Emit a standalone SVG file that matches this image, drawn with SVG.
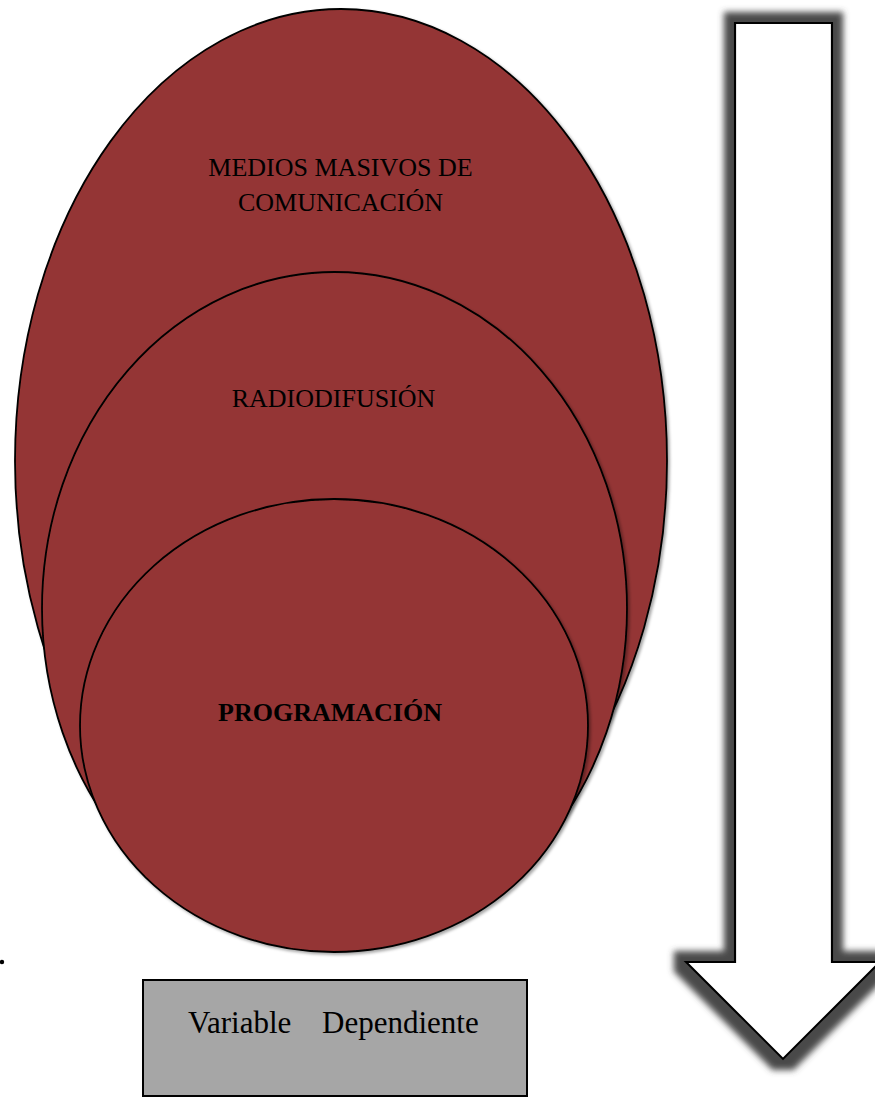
<svg xmlns="http://www.w3.org/2000/svg" width="875" height="1097" viewBox="0 0 875 1097">
  <style>
    .oval { fill: #943634; stroke: #000; stroke-width: 1.8; filter: url(#dshadow); }
    .lbl { font-family: "Liberation Serif", "Times New Roman", serif; font-size: 26px; fill: #000; text-anchor: middle; }
    .bold { font-weight: bold; }
    .box { fill: #a6a6a6; stroke: #000; stroke-width: 2; }
    .arrow { fill: #fff; stroke: #000; stroke-width: 2.2; stroke-linejoin: miter; filter: url(#glow); }
  </style>
  <defs>
    <filter id="dshadow" x="-10%" y="-10%" width="120%" height="120%">
      <feDropShadow dx="2" dy="2" stdDeviation="1.5" flood-color="#000" flood-opacity="0.35"/>
    </filter>
    <filter id="glow" x="-30%" y="-10%" width="160%" height="120%">
      <feMorphology in="SourceAlpha" operator="dilate" radius="10" result="d"/>
      <feGaussianBlur in="d" stdDeviation="3" result="b"/>
      <feFlood flood-color="#4a4a4a" result="c"/>
      <feComposite in="c" in2="b" operator="in" result="s"/>
      <feMerge>
        <feMergeNode in="s"/>
        <feMergeNode in="SourceGraphic"/>
      </feMerge>
    </filter>
  </defs>

  <g id="connectors">
    <g id="arrow-down">
      <path class="arrow" d="M735,23 L832,23 L832,962 L880,962 L783,1059 L686,962 L735,962 Z"/>
    </g>
  </g>

  <g id="medios">
    <ellipse class="oval" cx="341" cy="461" rx="326" ry="452"/>
    <text class="lbl" x="340.5" y="176">MEDIOS MASIVOS DE</text>
    <text class="lbl" x="340.5" y="211">COMUNICACIÓN</text>
  </g>

  <g id="radiodifusion">
    <ellipse class="oval" cx="334.5" cy="608.5" rx="292.5" ry="336.5"/>
    <text class="lbl" x="333.5" y="407">RADIODIFUSIÓN</text>
  </g>

  <g id="programacion">
    <ellipse class="oval" cx="334" cy="725.5" rx="254" ry="226.5"/>
    <text class="lbl bold" x="330" y="721">PROGRAMACIÓN</text>
  </g>

  <g id="dot">
    <circle cx="2" cy="962" r="2.2" fill="#000"/>
  </g>

  <g id="variable-dependiente">
    <rect class="box" x="143" y="980" width="384" height="116"/>
    <text font-family="Liberation Serif, Times New Roman, serif" font-size="31" fill="#000" y="1033"><tspan x="188">Variable</tspan><tspan x="322">Dependiente</tspan></text>
  </g>
</svg>
